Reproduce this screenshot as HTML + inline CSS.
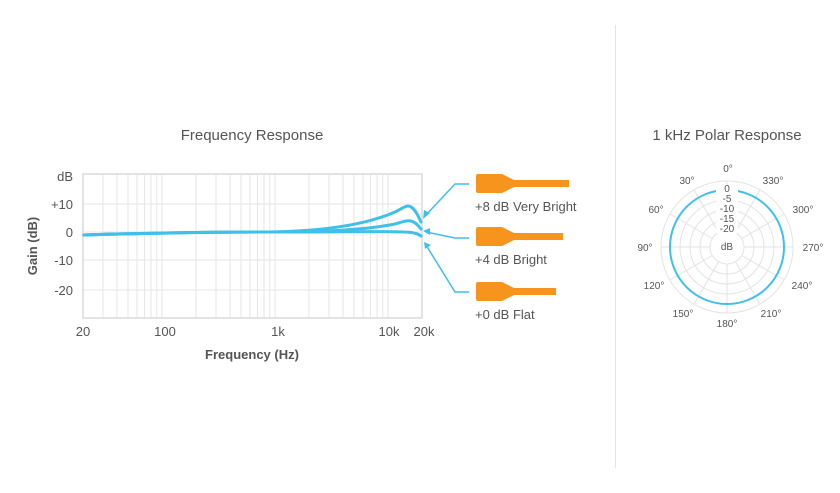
<!DOCTYPE html>
<html><head><style>body{margin:0;background:#fff}svg{display:block;font-family:"Liberation Sans",sans-serif}</style></head><body>
<svg width="840" height="493" viewBox="0 0 840 493">
<line x1="615.5" y1="25" x2="615.5" y2="468" stroke="#e3e3e3"/>
<text x="252" y="140" text-anchor="middle" font-size="15" fill="#555">Frequency Response</text>
<text x="727" y="140" text-anchor="middle" font-size="15" fill="#555">1 kHz Polar Response</text>
<g stroke="#e6e6e6" stroke-width="1">
<line x1="83" y1="204" x2="422" y2="204"/><line x1="83" y1="232" x2="422" y2="232"/><line x1="83" y1="260" x2="422" y2="260"/><line x1="83" y1="290" x2="422" y2="290"/>
<line x1="102.9" y1="174" x2="102.9" y2="318"/><line x1="117" y1="174" x2="117" y2="318"/><line x1="128" y1="174" x2="128" y2="318"/><line x1="137" y1="174" x2="137" y2="318"/><line x1="144.5" y1="174" x2="144.5" y2="318"/><line x1="151" y1="174" x2="151" y2="318"/><line x1="156.8" y1="174" x2="156.8" y2="318"/><line x1="162" y1="174" x2="162" y2="318"/>
<line x1="196" y1="174" x2="196" y2="318"/><line x1="216" y1="174" x2="216" y2="318"/><line x1="230" y1="174" x2="230" y2="318"/><line x1="241" y1="174" x2="241" y2="318"/><line x1="250" y1="174" x2="250" y2="318"/><line x1="257.5" y1="174" x2="257.5" y2="318"/><line x1="264" y1="174" x2="264" y2="318"/><line x1="269.8" y1="174" x2="269.8" y2="318"/><line x1="275" y1="174" x2="275" y2="318"/>
<line x1="309" y1="174" x2="309" y2="318"/><line x1="329" y1="174" x2="329" y2="318"/><line x1="343" y1="174" x2="343" y2="318"/><line x1="354" y1="174" x2="354" y2="318"/><line x1="363" y1="174" x2="363" y2="318"/><line x1="370.5" y1="174" x2="370.5" y2="318"/><line x1="377" y1="174" x2="377" y2="318"/><line x1="382.8" y1="174" x2="382.8" y2="318"/><line x1="388" y1="174" x2="388" y2="318"/>
</g>
<rect x="83" y="174" width="339" height="144" fill="none" stroke="#e3e3e3" stroke-width="2"/>
<g font-size="13" fill="#555" text-anchor="end">
<text x="73" y="181">dB</text><text x="73" y="209">+10</text><text x="73" y="237">0</text><text x="73" y="265">-10</text><text x="73" y="295">-20</text></g>
<g font-size="13" fill="#555" text-anchor="middle">
<text x="83" y="336">20</text><text x="165" y="336">100</text><text x="278" y="336">1k</text><text x="389" y="336">10k</text><text x="424" y="336">20k</text></g>
<text x="252" y="359" text-anchor="middle" font-size="13" font-weight="bold" fill="#555">Frequency (Hz)</text>
<text transform="translate(37,246) rotate(-90)" text-anchor="middle" font-size="13" font-weight="bold" fill="#555">Gain (dB)</text>
<g fill="none" stroke="#3ec0ea" stroke-width="3" stroke-linecap="round">
<path d="M84 235 C150 233 220 232 280 232 C340 232 380 231 404 232 C412 232 417 233 421 236"/>
<path d="M84 235 C150 233 220 232 270 232 C330 232 370 229 395 224 C402 222 407 220 411 221 C415 222 418 225 421 229"/>
<path d="M84 235 C150 233 220 232 260 232 C320 232 365 225 395 212 C401 209 405 206 408 206 C413 206 417 213 421 222"/>
</g>
<g fill="none" stroke="#3ec0ea" stroke-width="1.5">
<polyline points="469,184 455,184 425,216"/><polyline points="469,238 455,238 426,232"/><polyline points="469,292 455,292 426,245"/>
</g>
<g fill="#3ec0ea"><polygon points="423,219 424,210 430,213"/><polygon points="423,231 430,228 430,235"/><polygon points="424,242 431,245 425,249"/></g>
<g fill="#f7941e">
<path d="M478 174 H502 L514 180 H569 V187 H514 L502 193 H478 a2 2 0 0 1 -2 -2 V176 a2 2 0 0 1 2 -2Z"/>
<path d="M478 227 H502 L514 233 H563 V240 H514 L502 246 H478 a2 2 0 0 1 -2 -2 V229 a2 2 0 0 1 2 -2Z"/>
<path d="M478 282 H502 L514 288 H556 V295 H514 L502 301 H478 a2 2 0 0 1 -2 -2 V284 a2 2 0 0 1 2 -2Z"/>
</g>
<g font-size="13" fill="#555"><text x="475" y="211">+8 dB Very Bright</text><text x="475" y="264">+4 dB Bright</text><text x="475" y="319">+0 dB Flat</text></g>
<g fill="none" stroke="#e3e3e3" stroke-width="1">
<circle cx="727" cy="247" r="66"/><circle cx="727" cy="247" r="47"/><circle cx="727" cy="247" r="37"/><circle cx="727" cy="247" r="27"/><circle cx="727" cy="247" r="17"/>
<line x1="727" y1="181" x2="727" y2="230"/><line x1="727" y1="264" x2="727" y2="313"/><line x1="661" y1="247" x2="710" y2="247"/><line x1="744" y1="247" x2="793" y2="247"/>
<line x1="694" y1="189.8" x2="718.5" y2="232.3"/><line x1="760" y1="189.8" x2="735.5" y2="232.3"/><line x1="694" y1="304.2" x2="718.5" y2="261.7"/><line x1="760" y1="304.2" x2="735.5" y2="261.7"/>
<line x1="669.8" y1="214" x2="712.3" y2="238.5"/><line x1="784.2" y1="214" x2="741.7" y2="238.5"/><line x1="669.8" y1="280" x2="712.3" y2="255.5"/><line x1="784.2" y1="280" x2="741.7" y2="255.5"/>
</g>
<circle cx="727" cy="247" r="57" fill="none" stroke="#3ec0ea" stroke-width="2"/>
<g font-size="10" fill="#555" text-anchor="middle">
<rect x="716" y="185" width="22" height="48" fill="#fff"/>
<text x="727" y="192">0</text><text x="727" y="202">-5</text><text x="727" y="212">-10</text><text x="727" y="222">-15</text><text x="727" y="232">-20</text>
<text x="727" y="250">dB</text>
<text x="728" y="172">0°</text><text x="773" y="184">330°</text><text x="687" y="184">30°</text>
<text x="803" y="213">300°</text><text x="656" y="213">60°</text>
<text x="813" y="251">270°</text><text x="645" y="251">90°</text>
<text x="802" y="289">240°</text><text x="654" y="289">120°</text>
<text x="771" y="317">210°</text><text x="683" y="317">150°</text><text x="727" y="327">180°</text>
</g>
</svg>
</body></html>
